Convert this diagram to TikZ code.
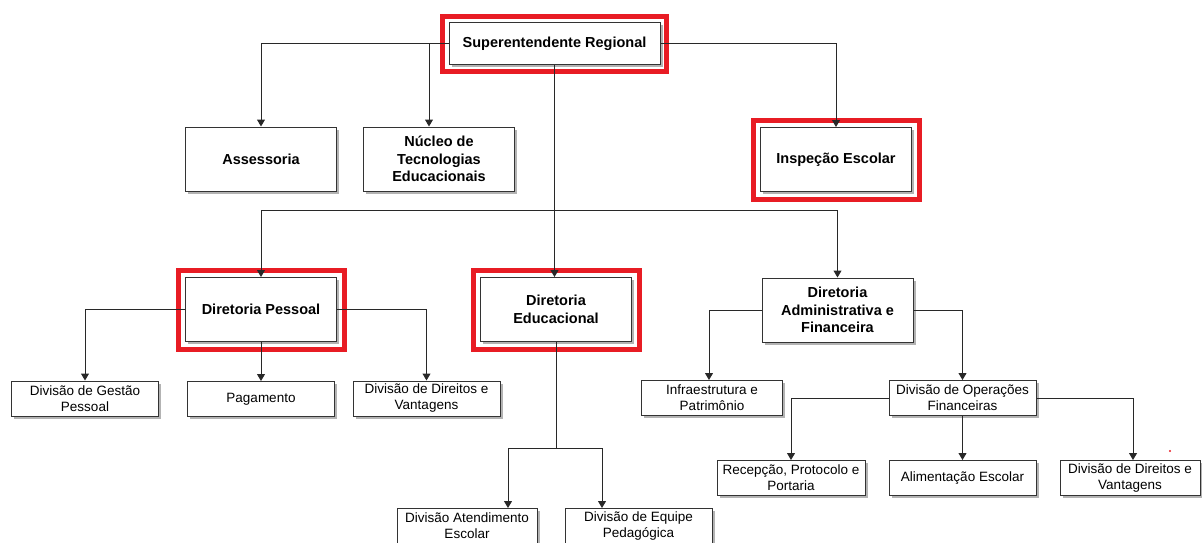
\documentclass[tikz,border=0pt]{standalone}
\usepackage{fontspec}
\setmainfont{Liberation Sans}
\usetikzlibrary{
    arrows.meta,
    positioning,
    fit,
    shadows
}

\definecolor{framered}{RGB}{232,28,36}
\definecolor{wire}{RGB}{40,40,40}

\begin{document}
\begin{tikzpicture}[
    x=1pt, y=-1pt,
    unit/.style={
        draw=black!80,
        line width=1pt,
        fill=white,
        align=center,
        inner sep=2pt,
        font=\fontsize{14.5}{17.5}\selectfont\bfseries,
        drop shadow={shadow xshift=2.5pt, shadow yshift=-2.5pt, opacity=0.6}
    },
    big/.style={
        unit,
        minimum width=151pt,
        minimum height=64pt
    },
    sub/.style={
        unit,
        minimum width=147pt,
        minimum height=35pt,
        font=\fontsize{13.5}{16}\selectfont
    },
    hilite/.style={
        draw=framered,
        line width=5pt,
        inner sep=6pt
    },
    arrow/.style={-{Triangle[width=8pt,length=7pt]},draw=wire,line width=1pt},
    link/.style={draw=wire,line width=1pt}
]

\useasboundingbox (0,0) rectangle (1202,543);

\node[big, minimum width=211pt, minimum height=42pt] (sup) at (554.5,44)
{Superentendente Regional};

\node[big] (assess) at (261,159) {Assessoria};
\node[big, right=26pt of assess] (nucleo) {Núcleo de\\Tecnologias\\Educacionais};
\node[big] (insp) at (836,159.5) {Inspeção Escolar};

\node[big] (pess) at (261,309.5) {Diretoria Pessoal};
\node[big] (educ) at (556,309.5) {Diretoria\\Educacional};
\node[big] (adm) at (837.5,310) {Diretoria\\Administrativa e\\Financeira};

\node[sub] (gestao) at (85,398.5) {Divisão de Gestão\\Pessoal};
\node[sub, below=39pt of pess] (pagam) {Pagamento};
\node[sub] (direitos) at (426.5,398.5) {Divisão de Direitos e\\Vantagens};

\node[sub, minimum width=141pt] (infra) at (712,398) {Infraestrutura e\\Patrimônio};
\node[sub] (divop) at (962.5,398) {Divisão de Operações\\Financeiras};

\node[sub, minimum width=148pt] (recep) at (791,478) {Recepção, Protocolo e\\Portaria};
\node[sub] (alim) at (962.5,478) {Alimentação Escolar};
\node[sub, minimum width=140pt] (dir2) at (1130,478) {Divisão de Direitos e\\Vantagens};

\node[sub, minimum width=140pt] (atend) at (467,526) {Divisão Atendimento\\Escolar};
\node[sub] (equipe) at (638.5,526) {Divisão de Equipe\\Pedagógica};

% red highlight frames
\node[hilite, fit=(sup)] (supframe) {};
\node[hilite, inner sep=7pt, fit=(insp)] (inspframe) {};
\node[hilite, inner sep=7pt, fit=(pess)] (pessframe) {};
\node[hilite, inner sep=7pt, fit=(educ)] (educframe) {};

% connectors
\draw[arrow] (sup.west) -| (assess.north);
\draw[arrow] (sup.west) -| ([xshift=-10pt]nucleo.north);
\draw[arrow] (sup.east) -| (insp.north);

\path (sup.south) ++(0,145) coordinate (bus);
\draw[arrow] (sup.south) -- (sup.south |- educ.north);
\draw[arrow] (bus) -| (pess.north);
\draw[arrow] (bus) -| (adm.north);

\draw[arrow] (pess.west) -| (gestao.north);
\draw[arrow] (pess.south) -- (pagam.north);
\draw[arrow] (pess.east) -| (direitos.north);

\path (educ.south) ++(0,106) coordinate (fork);
\draw[link] (educ.south) -- (fork);
\draw[arrow] (fork) -| ([xshift=41pt]atend.north);
\draw[arrow] (fork) -| ([xshift=-36.5pt]equipe.north);

\draw[arrow] (adm.west) -| ([xshift=-3pt]infra.north);
\draw[arrow] (adm.east) -| (divop.north);

\draw[arrow] (divop.west) -| (recep.north);
\draw[arrow] (divop.south) -- (alim.north);
\draw[arrow] (divop.east) -| ([xshift=3pt]dir2.north);

\fill[framered] (1170,451) circle (1.2pt);

\end{tikzpicture}
\end{document}
